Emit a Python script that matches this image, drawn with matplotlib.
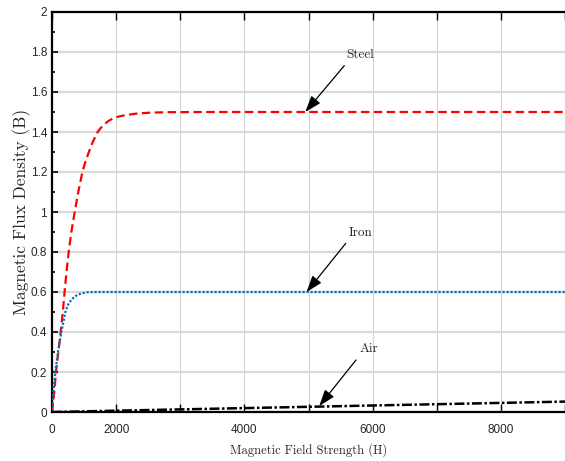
import matplotlib
matplotlib.use("Agg")
import matplotlib.pyplot as plt
from matplotlib.ticker import FixedLocator, MultipleLocator

# ---- data (x in axis units) ----
steel_H = [0, 36, 62, 99, 135, 168, 196, 226, 260, 302, 354, 410, 474, 520, 575, 635, 712, 760, 820, 880, 953, 1050, 1150, 1344, 1550, 1800, 2400, 8000]
steel_B = [0, 0.1, 0.2, 0.3, 0.4, 0.5, 0.6, 0.7, 0.8, 0.9, 1.0, 1.1, 1.2, 1.25, 1.3, 1.35, 1.4, 1.42, 1.44, 1.455, 1.468, 1.478, 1.485, 1.493, 1.497, 1.499, 1.5, 1.5]

iron_H = [0, 21, 52, 94, 146, 208, 240, 276, 314, 354, 400, 458, 560, 700, 8000]
iron_B = [0, 0.1, 0.2, 0.3, 0.4, 0.5, 0.53, 0.55, 0.565, 0.577, 0.586, 0.593, 0.599, 0.6, 0.6]

air_H = [0, 8000]
air_B = [0, 0.052]

x_tick_pos = [0, 1000, 2000, 3000, 4000, 5000, 6000, 7000, 8000]
x_tick_labels = ['0', '2000', '', '4000', '', '6000', '', '8000', '']
y_tick_pos = [0, 0.2, 0.4, 0.6, 0.8, 1.0, 1.2, 1.4, 1.6, 1.8, 2.0]
y_tick_labels = ['0', '0.2', '0.4', '0.6', '0.8', '1', '1.2', '1.4', '1.6', '1.8', '2']

labels = ['Steel', 'Iron', 'Air']
text_pos = [(4803, 1.787), (4811, 0.897), (4941, 0.314)]
arrow_tail = [(4559, 1.732), (4580, 0.843), (4741, 0.26)]
arrow_head = [(3950, 1.5), (3971, 0.6), (4168, 0.03)]

# ---- figure ----
fig = plt.figure(figsize=(5.65, 4.61), dpi=100)
ax = fig.add_axes([52 / 565, 1 - 412 / 461, 513 / 565, 400 / 461])

serif = 'cmr10'
tickfont = ['Liberation Sans Narrow', 'Liberation Sans', 'DejaVu Sans']

ax.plot(steel_H, steel_B, color='#ff0000', lw=1.6, linestyle=(0, (3.8, 2.0)), zorder=3)
ax.plot(iron_H, iron_B, color='#0072BD', lw=1.6, linestyle=(0, (1.0, 0.8)), zorder=3)
ax.plot(air_H, air_B, color='black', lw=1.8, linestyle=(0, (4, 1, 1, 1)), zorder=3)

ax.set_xlim(0, 8000)
ax.set_ylim(0, 2)

ax.xaxis.set_major_locator(FixedLocator(x_tick_pos))
ax.set_xticklabels(x_tick_labels)
ax.yaxis.set_major_locator(FixedLocator(y_tick_pos))
ax.set_yticklabels(y_tick_labels)
ax.yaxis.set_minor_locator(MultipleLocator(0.1))

for lab in ax.get_xticklabels() + ax.get_yticklabels():
    lab.set_fontfamily(tickfont)
    lab.set_fontsize(8.5)
    lab.set_color('#262626')

ax.tick_params(axis='x', which='major', direction='in', length=6, width=1.0,
               top=True, bottom=True, pad=8.5, color='black')
ax.tick_params(axis='y', which='major', direction='in', length=4, width=1.2,
               left=True, right=False, pad=3.5, color='black')
ax.tick_params(axis='y', which='minor', direction='in', length=2.5, width=1.2,
               left=True, right=False, color='black')

ax.yaxis.grid(True, which='major', color='#d9d9d9', lw=1.6, zorder=0)
ax.xaxis.grid(True, which='major', color='#d2d2d2', lw=0.8, zorder=0)
ax.set_axisbelow(True)

for side in ['left', 'bottom', 'top']:
    ax.spines[side].set_linewidth(1.6)
    ax.spines[side].set_color('black')
ax.spines['right'].set_visible(False)

ax.set_xlabel('Magnetic Field Strength (H)', fontfamily=serif, fontsize=9,
              color='#262626', labelpad=5)
ax.set_ylabel('Magnetic Flux Density (B)', fontfamily=serif, fontsize=12.5,
              color='#262626', labelpad=0)

for lab, tp, tail, head in zip(labels, text_pos, arrow_tail, arrow_head):
    ax.annotate('', xy=head, xytext=tail,
                arrowprops=dict(arrowstyle='-|>,head_length=1.0,head_width=0.35',
                                lw=0.9, color='black', shrinkA=0, shrinkB=0,
                                mutation_scale=10),
                zorder=5)
    ax.text(tp[0], tp[1], lab, ha='center', va='center', fontfamily=serif,
            fontsize=9.5, color='#262626', zorder=5)

fig.savefig('out.png', dpi=100)
